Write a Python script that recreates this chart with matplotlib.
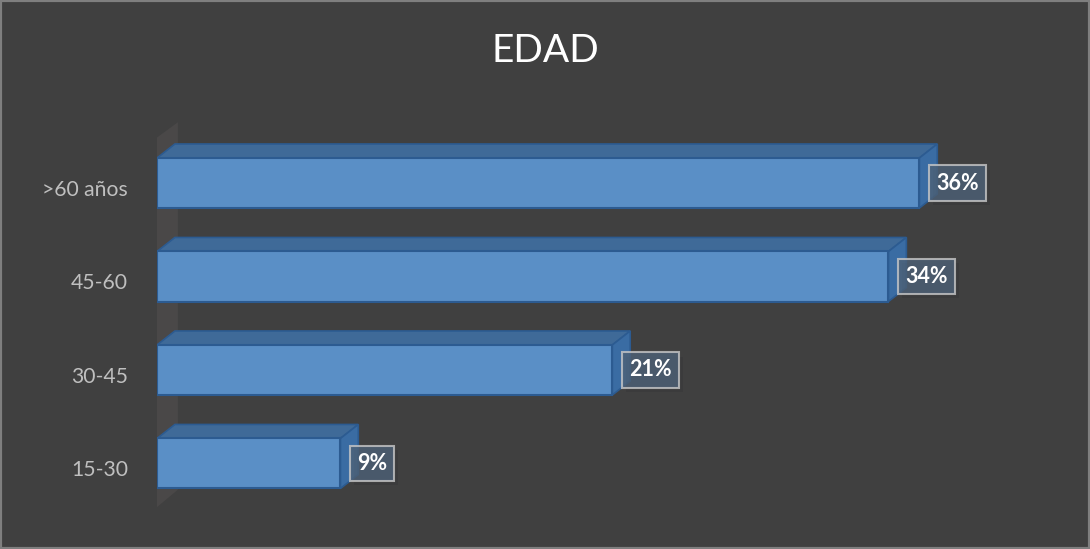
import matplotlib.pyplot as plt
from matplotlib.patches import Polygon, Rectangle
import matplotlib.patheffects as pe

# data (bar lengths, labels rounded to whole %)
categories = ['15-30', '30-45', '45-60', '>60 años']
values = [8.6, 21.35, 34.3, 35.75]
title = 'EDAD'

plt.rcParams['font.family'] = ['Lato', 'DejaVu Sans']

bg = '#404040'
front_col = '#5a8fc6'
top_col = '#3f6a98'
side_col = '#3a6ca3'
edge_col = '#2c5b91'

fig = plt.figure(figsize=(10.9, 5.49), dpi=100, facecolor=bg)
W, H = 1090, 549

# axes placed so that 0% sits at pixel 157 and one % is ~21.3 px
ax = fig.add_axes([157 / W, 1 - 515 / H, (1010 - 157) / W, (515 - 120) / H])
ax.set_facecolor('none')
ax.set_xlim(0, 40)
ax.set_ylim(-0.551, 3.674)
for s in ax.spines.values():
    s.set_visible(False)
ax.set_xticks([])

h = 0.535   # front face height (data units)
dx = 0.84   # depth offset in x (data units)
dy = 0.15   # depth offset in y (data units)

# back wall
wall = Polygon([(-0.28, -0.52), (-0.28, 3.44), (0.98, 3.65), (0.98, -0.28)],
               closed=True, facecolor='#4a4848', edgecolor='none', zorder=1)
ax.add_patch(wall)

ypos = list(range(len(categories)))
for y, v in zip(ypos, values):
    top = y + h / 2
    bot = y - h / 2
    ax.add_patch(Polygon([(0, top), (v, top), (v + dx, top + dy), (dx, top + dy)],
                         closed=True, facecolor=top_col, edgecolor=edge_col,
                         linewidth=1.2, zorder=2))
    ax.add_patch(Polygon([(v, bot), (v, top), (v + dx, top + dy), (v + dx, bot + dy)],
                         closed=True, facecolor=side_col, edgecolor=edge_col,
                         linewidth=1.2, zorder=2))

ax.barh(ypos, values, height=h, left=0, color=front_col, edgecolor=edge_col,
        linewidth=1.5, zorder=3)

for y, v in zip(ypos, values):
    lbl = f'{round(v):d}%'
    t = ax.annotate(lbl, (v, y), xytext=(12, 0), textcoords='offset points',
                    ha='left', va='center', fontsize=15.5, fontweight='bold',
                    color='white', zorder=5,
                    bbox=dict(boxstyle='square,pad=0.33', facecolor='#4d6177',
                              alpha=0.8, edgecolor='#c8c8c8', linewidth=1.5))
    t.get_bbox_patch().set_path_effects(
        [pe.SimplePatchShadow(offset=(3, -3), alpha=0.12), pe.Normal()])

ax.set_yticks([y - 0.05 for y in ypos])
ax.set_yticklabels(categories, color='#bfbfbf', fontsize=15.2)
ax.tick_params(axis='y', length=0, pad=21)

fig.text(0.5, 1 - 51 / H, title, ha='center', va='center', fontsize=28,
         color='white')

fig.add_artist(Rectangle((0, 0), 1, 1, transform=fig.transFigure, fill=False,
                         edgecolor='#7f7f7f', linewidth=3))

fig.savefig('out.png', dpi=100, facecolor=bg)
